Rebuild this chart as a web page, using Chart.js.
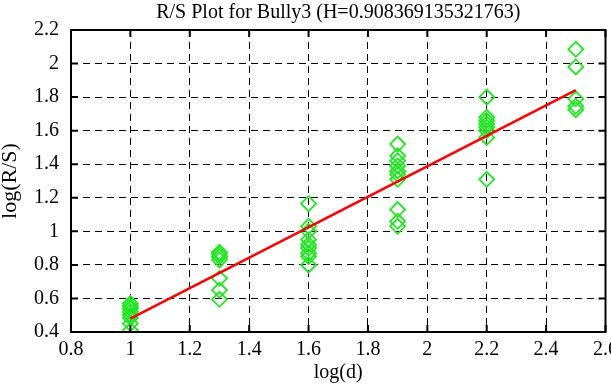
<!DOCTYPE html>
<html>
<head>
<meta charset="utf-8">
<script src="https://cdn.jsdelivr.net/npm/chart.js@4"></script>
<style>
  html, body { margin: 0; padding: 0; background: #fff; overflow: hidden; }
  #wrap { width: 611px; height: 385px; overflow: hidden; }
</style>
</head>
<body>
<div id="wrap"><canvas id="rsChart" width="624" height="385"></canvas></div>
<script>
// === data ===
const logD = [
    1, 1, 1, 1, 1, 1, 1, 1,
    1.3, 1.3, 1.3, 1.3, 1.3, 1.3, 1.3,
    1.6, 1.6, 1.6, 1.6, 1.6, 1.6, 1.6, 1.6, 1.6,
    1.9, 1.9, 1.9, 1.9, 1.9, 1.9, 1.9, 1.9, 1.9, 1.9,
    2.2, 2.2, 2.2, 2.2, 2.2, 2.2, 2.2, 2.2,
    2.5, 2.5, 2.5, 2.5, 2.5
];
const logRS = [
    0.57, 0.555, 0.54, 0.52, 0.50, 0.485, 0.45, 0.41,
    0.875, 0.865, 0.85, 0.83, 0.72, 0.65, 0.595,
    1.165, 1.03, 1.0, 0.95, 0.92, 0.90, 0.87, 0.85, 0.80,
    1.52, 1.45, 1.42, 1.39, 1.36, 1.34, 1.31, 1.13, 1.06, 1.03,
    1.80, 1.68, 1.66, 1.64, 1.62, 1.60, 1.56, 1.31,
    2.085, 1.98, 1.79, 1.745, 1.725
];

const fitX = [1, 2.5];
const fitY = [0.48, 1.842];

const xTickValues = [0.8, 1, 1.2, 1.4, 1.6, 1.8, 2, 2.2, 2.4, 2.6];
const xTickLabels = ["0.8", "1", "1.2", "1.4", "1.6", "1.8", "2", "2.2", "2.4", "2.6"];
const yTickValues = [0.4, 0.6, 0.8, 1, 1.2, 1.4, 1.6, 1.8, 2, 2.2];
const yTickLabels = ["0.4", "0.6", "0.8", "1", "1.2", "1.4", "1.6", "1.8", "2", "2.2"];

const serif = "'Liberation Serif', 'DejaVu Serif', serif";

// solid frame plus short inward ticks on all four sides
const framePlugin = {
    id: "frame",
    afterDraw(chart) {
        const { ctx, chartArea: a, scales } = chart;
        const len = 7;
        ctx.save();
        ctx.strokeStyle = "#000";
        ctx.lineWidth = 2;
        ctx.setLineDash([]);
        ctx.beginPath();
        xTickValues.forEach(v => {
            const px = scales.x.getPixelForValue(v);
            ctx.moveTo(px, a.bottom); ctx.lineTo(px, a.bottom - len);
            ctx.moveTo(px, a.top); ctx.lineTo(px, a.top + len);
        });
        yTickValues.forEach(v => {
            const py = scales.y.getPixelForValue(v);
            ctx.moveTo(a.left, py); ctx.lineTo(a.left + len, py);
            ctx.moveTo(a.right, py); ctx.lineTo(a.right - len, py);
        });
        ctx.stroke();
        ctx.strokeRect(a.left, a.top, a.right - a.left, a.bottom - a.top);
        ctx.restore();
    }
};

const ctx = document.getElementById("rsChart").getContext("2d");

new Chart(ctx, {
    data: {
        datasets: [
            {
                type: "line",
                label: "fit",
                data: fitX.map((x, i) => ({ x: x, y: fitY[i] })),
                borderColor: "#ff0000",
                borderWidth: 2.5,
                pointRadius: 0,
                fill: false,
                order: 0
            },
            {
                type: "scatter",
                label: "R/S",
                data: logD.map((x, i) => ({ x: x, y: logRS[i] })),
                pointStyle: "rectRot",
                pointRadius: 7.5,
                pointHoverRadius: 7.5,
                borderColor: "#1ee81e",
                backgroundColor: "rgba(0,0,0,0)",
                borderWidth: 1.8,
                order: 1
            }
        ]
    },
    plugins: [framePlugin],
    options: {
        responsive: false,
        animation: false,
        devicePixelRatio: 1,
        layout: { padding: { right: 0 } },
        plugins: {
            legend: { display: false },
            tooltip: { enabled: false },
            title: {
                display: true,
                text: "R/S Plot for Bully3 (H=0.908369135321763)",
                color: "#000",
                fullSize: false,
                font: { family: serif, size: 20, weight: "normal" },
                padding: { top: 1, bottom: 5 }
            }
        },
        scales: {
            x: {
                type: "linear",
                min: 0.8,
                max: 2.6,
                afterBuildTicks: s => { s.ticks = xTickValues.map(v => ({ value: v })); },
                afterFit: s => { s.height = 53; },
                ticks: {
                    color: "#000",
                    padding: 6,
                    maxRotation: 0,
                    font: { family: serif, size: 20 },
                    callback: (v, i) => xTickLabels[i]
                },
                grid: { color: "#000", lineWidth: 1, drawTicks: false },
                border: { display: false, dash: [7, 5] },
                title: {
                    display: true,
                    text: "log(d)",
                    color: "#000",
                    font: { family: serif, size: 20 },
                    padding: { top: 0, bottom: 0 }
                }
            },
            y: {
                type: "linear",
                min: 0.4,
                max: 2.2,
                afterBuildTicks: s => { s.ticks = yTickValues.map(v => ({ value: v })); },
                afterFit: s => { s.width = 71; },
                ticks: {
                    color: "#000",
                    padding: 12,
                    font: { family: serif, size: 20 },
                    callback: (v, i) => yTickLabels[i]
                },
                grid: { color: "#000", lineWidth: 1, drawTicks: false },
                border: { display: false, dash: [7, 5] },
                title: {
                    display: true,
                    text: "log(R/S)",
                    color: "#000",
                    font: { family: serif, size: 22 },
                    padding: { top: -3, bottom: 0 }
                }
            }
        }
    }
});
</script>
</body>
</html>
